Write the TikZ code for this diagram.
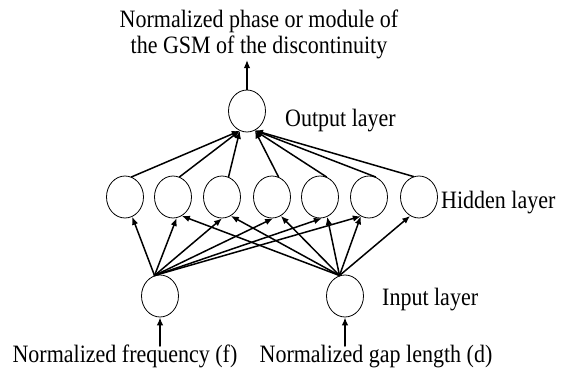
\documentclass[tikz,border=0pt]{standalone}
\usepackage{fontspec}
\setmainfont{Liberation Serif}[FakeStretch=0.88]
\usetikzlibrary{shapes.geometric, arrows.meta}

\begin{document}
\begin{tikzpicture}[x=1pt, y=-1pt, line cap=round, >={Latex[length=8pt,width=6.5pt]},
    neuron/.style={ellipse, draw, line width=0.8pt, minimum width=37pt, minimum height=42pt, inner sep=0pt},
    link/.style={->, line width=1.5pt},
    lbl/.style={font=\fontsize{25}{30}\selectfont, inner sep=0pt}]
        \useasboundingbox (0,0) rectangle (566,378);
        \node[neuron] (out) at (247,111) {};
        \foreach \i/\x in {1/125,2/173,3/222,4/272,5/320,6/369,7/419}
            \node[neuron] (h\i) at (\x,197) {};
        \node[neuron] (in1) at (160,296) {};
        \node[neuron] (in2) at (345,296) {};
        \node[lbl, anchor=base] (ttl1) at (259,27) {Normalized phase or module of};
        \node[lbl, anchor=base] (ttl2) at (259,53) {the GSM of the discontinuity};
        \node[lbl, anchor=base west] (lout) at (285,126) {Output layer};
        \node[lbl, anchor=base west] (lhid) at (441,208) {Hidden layer};
        \node[lbl, anchor=base west] (lin) at (382,305) {Input layer};
        \node[lbl, anchor=base] (lf) at (125,362) {Normalized frequency (f)};
        \node[lbl, anchor=base] (ld) at (376,362) {Normalized gap length (d)};
        \coordinate (top) at (247,60);
        \coordinate (fsrc) at (160,346);
        \coordinate (dsrc) at (345,346);
        \draw[link] (out.north) -- (top);
        \draw[link] (fsrc) -- (in1.south);
        \draw[link] (dsrc) -- (in2.south);
        \foreach \i in {1,2,3}
            \draw[link] (h\i.72) -- (out.250);
        \foreach \i in {4,5,6}
            \draw[link] (h\i.72) -- (out.292);
        \draw[link] (h7.105) -- (out.292);
        \foreach \i/\a in {1/290,2/280,3/270,4/273,5/275,6/247}
            \draw[link] (in1.105) -- (h\i.\a);
        \foreach \i/\a in {2/295,3/295,4/295,5/290,6/247,7/245}
            \draw[link] (in2.105) -- (h\i.\a);
    \end{tikzpicture}
\end{document}
